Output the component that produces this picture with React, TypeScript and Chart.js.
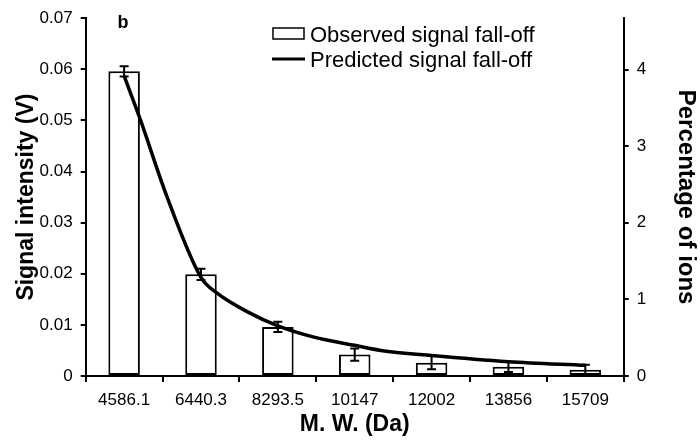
import React, { useEffect, useRef } from 'react';
import { Chart, registerables } from 'chart.js';

Chart.register(...registerables);

// ---- data ----
const categories = ['4586.1', '6440.3', '8293.5', '10147', '12002', '13856', '15709'];
const observed = [0.0596, 0.0199, 0.0096, 0.0042, 0.0026, 0.0018, 0.0012];
const observedErr = [0.001, 0.0011, 0.001, 0.0012, 0.0013, 0.001, 0.001];
// predicted curve: positions along the category axis (index units) and values (V)
const predictedX = [0, 0.21, 0.55, 1, 1.21, 1.6, 2, 2.47, 3, 3.34, 4, 5, 6];
const predictedY = [0.0587, 0.0502, 0.0354, 0.0193, 0.0162, 0.0126, 0.0098, 0.0076, 0.006, 0.005, 0.004, 0.0028, 0.0021];
const leftMax = 0.07;
const leftStep = 0.01;
const rightMax = 4.67;
const rightStep = 1;
const panelLabel = 'b';
const legendLabels = ['Observed signal fall-off', 'Predicted signal fall-off'];
const xTitle = 'M. W. (Da)';
const yTitle = 'Signal intensity (V)';
const y1Title = 'Percentage of ions';

const FONT = "'Liberation Sans', Arial, Helvetica, sans-serif";

const errorBarPlugin = {
  id: 'errorBars',
  afterDatasetsDraw(chart: any) {
    const meta = chart.getDatasetMeta(1);
    const y = chart.scales.y;
    const ctx = chart.ctx;
    ctx.save();
    ctx.strokeStyle = '#000';
    ctx.lineWidth = 2;
    meta.data.forEach((bar: any, i: number) => {
      const x = bar.x;
      const yTop = y.getPixelForValue(observed[i] + observedErr[i]);
      const yBot = y.getPixelForValue(observed[i] - observedErr[i]);
      ctx.beginPath();
      ctx.moveTo(x, yTop);
      ctx.lineTo(x, yBot);
      ctx.moveTo(x - 4.5, yTop);
      ctx.lineTo(x + 4.5, yTop);
      ctx.moveTo(x - 4.5, yBot);
      ctx.lineTo(x + 4.5, yBot);
      ctx.stroke();
    });
    ctx.restore();
  },
};

const annotationPlugin = {
  id: 'annotations',
  afterDraw(chart: any) {
    const ctx = chart.ctx;
    ctx.save();
    ctx.fillStyle = '#000';
    ctx.strokeStyle = '#000';
    ctx.font = `bold 18px ${FONT}`;
    ctx.textAlign = 'center';
    ctx.textBaseline = 'alphabetic';
    ctx.fillText(panelLabel, 123, 28);
    ctx.lineWidth = 1.5;
    ctx.strokeRect(273, 28, 31, 11);
    ctx.lineWidth = 3;
    ctx.beginPath();
    ctx.moveTo(272, 59);
    ctx.lineTo(305, 59);
    ctx.stroke();
    ctx.font = `22px ${FONT}`;
    ctx.textAlign = 'left';
    ctx.fillText(legendLabels[0], 310, 41.5);
    ctx.fillText(legendLabels[1], 310, 66.5);
    ctx.restore();
  },
};

export default function App() {
  const ref = useRef<HTMLCanvasElement | null>(null);
  useEffect(() => {
    if (!ref.current) return;
    Chart.defaults.font.family = FONT;
    Chart.defaults.color = '#000';
    const chart = new Chart(ref.current, {
      type: 'bar',
      data: {
        labels: categories,
        datasets: [
          {
            type: 'line',
            label: legendLabels[1],
            data: predictedX.map((x, i) => ({ x, y: predictedY[i] })),
            xAxisID: 'xl',
            yAxisID: 'y',
            borderColor: '#000',
            borderWidth: 3.5,
            pointRadius: 0,
            fill: false,
            cubicInterpolationMode: 'monotone',
            order: 0,
          } as any,
          {
            type: 'bar',
            label: legendLabels[0],
            data: observed,
            xAxisID: 'x',
            yAxisID: 'y',
            backgroundColor: '#fff',
            borderColor: '#000',
            borderWidth: 2,
            borderSkipped: false,
            grouped: false,
            categoryPercentage: 1,
            barPercentage: 0.41,
            order: 1,
          } as any,
        ],
      },
      options: {
        responsive: false,
        animation: false,
        layout: { padding: { left: 13, right: 2, top: 13, bottom: 7 } },
        plugins: { legend: { display: false }, tooltip: { enabled: false } },
        scales: {
          x: {
            type: 'category',
            axis: 'x',
            position: 'bottom',
            offset: true,
            grid: { display: true, drawOnChartArea: false, drawTicks: true, tickLength: 6, color: '#000', lineWidth: 2, offset: true },
            border: { display: true, color: '#000', width: 2 },
            ticks: { padding: 8, font: { size: 17 }, color: '#000', maxRotation: 0, autoSkip: false },
            title: { display: true, text: xTitle, font: { size: 23, weight: 'bold' }, color: '#000', padding: { top: -8, bottom: 0 } },
          },
          xl: {
            type: 'linear',
            axis: 'x',
            position: 'bottom',
            offset: false,
            min: -0.5,
            max: 6.5,
            display: true,
            grid: { display: false, drawTicks: false, drawOnChartArea: false, offset: false },
            border: { display: false },
            ticks: { display: false },
            title: { display: false },
          },
          y: {
            position: 'left',
            min: 0,
            max: leftMax,
            grid: { display: true, drawOnChartArea: false, drawTicks: true, tickLength: 5, color: '#000', lineWidth: 2 },
            border: { display: true, color: '#000', width: 2 },
            ticks: {
              stepSize: leftStep,
              padding: 8,
              font: { size: 17 },
              color: '#000',
              callback: (v: any) => String(Number(Number(v).toFixed(2))),
            },
            title: { display: true, text: yTitle, font: { size: 23, weight: 'bold' }, color: '#000', padding: { top: 0, bottom: -9 } },
          },
          y1: {
            position: 'right',
            min: 0,
            max: rightMax,
            grid: { display: true, drawOnChartArea: false, drawTicks: true, tickLength: 5, color: '#000', lineWidth: 2 },
            border: { display: true, color: '#000', width: 2 },
            afterBuildTicks: (scale: any) => {
              scale.ticks = scale.ticks.filter((t: any) => Number.isInteger(t.value));
            },
            ticks: { stepSize: rightStep, padding: 8, font: { size: 17 }, color: '#000' },
            title: { display: true, text: y1Title, font: { size: 24, weight: 'bold' }, color: '#000', padding: { top: -2, bottom: 17 } },
          },
        },
      } as any,
      plugins: [errorBarPlugin, annotationPlugin],
    });
    return () => chart.destroy();
  }, []);
  return (
    <div style={{ position: 'fixed', left: 0, top: 0, width: 700, height: 445, background: '#fff' }}>
      <canvas ref={ref} width={700} height={445} />
    </div>
  );
}
